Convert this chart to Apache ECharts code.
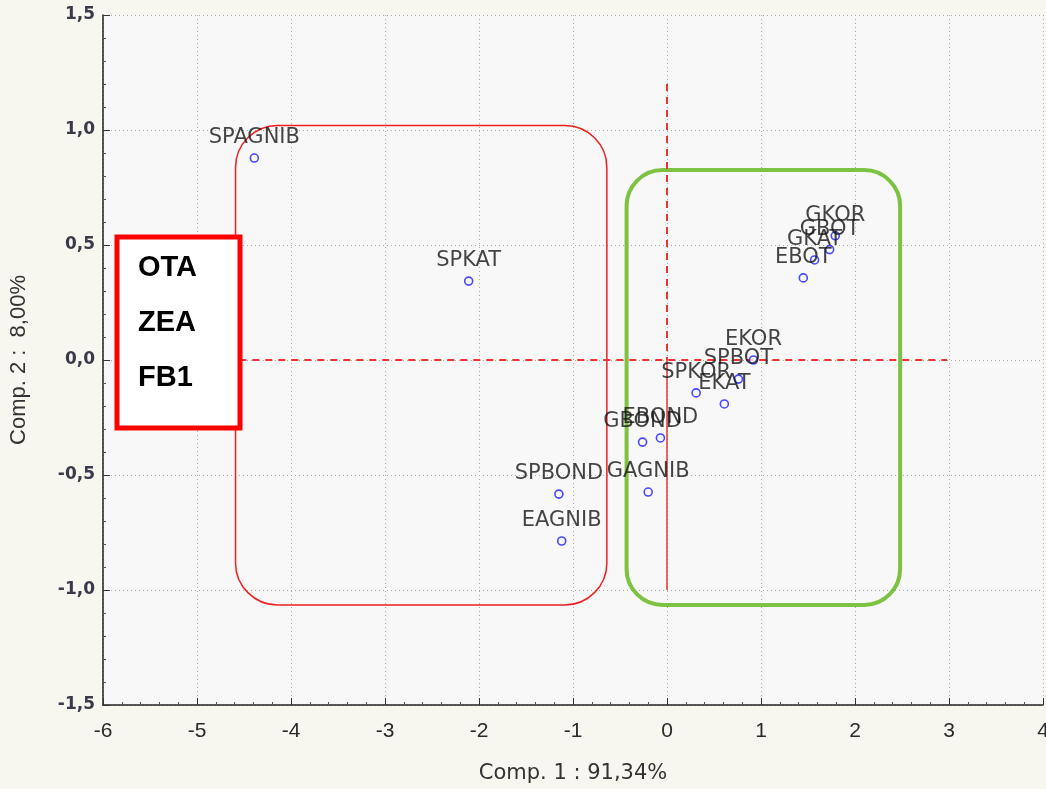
<!DOCTYPE html>
<html lang="en">
<head>
    <meta charset="UTF-8">
    <title>PCA</title>
    <style>
        html, body { margin: 0; padding: 0; background: #f7f6ef; }
        #box { width: 1046px; height: 789px; }
    </style>
    <script src="https://cdn.jsdelivr.net/npm/echarts@6/dist/echarts.min.js"></script>
</head>
<body>
    <div id="box"></div>
    <script>
        // samples and their scores on comp 1 / comp 2
        var names = ['SPAGNIB', 'SPKAT', 'SPBOND', 'EAGNIB', 'GAGNIB', 'GBOND', 'EBOND', 'SPKOR',
            'EKAT', 'SPBOT', 'EKOR', 'EBOT', 'GKAT', 'GBOT', 'GKOR'];
        var comp1 = [-4.39, -2.11, -1.15, -1.12, -0.20, -0.26, -0.07, 0.31, 0.61, 0.76, 0.92, 1.45, 1.57, 1.73, 1.79];
        var comp2 = [0.878, 0.343, -0.583, -0.787, -0.574, -0.357, -0.339, -0.143, -0.191, -0.083, 0.0, 0.357, 0.435, 0.48, 0.54];
        var legendItems = ['OTA', 'ZEA', 'FB1'];

        var chart = echarts.init(document.getElementById('box'));

        var points = names.map(function (n, i) { return { name: n, value: [comp1[i], comp2[i]] }; });

        var fmt = function (v) { return v.toFixed(1).replace('.', ','); };

        var option = {
            backgroundColor: '#f7f6ef',
            animation: false,
            grid: {
                left: 103, right: 3, top: 15, bottom: 84, outerBoundsMode: 'none',
                show: true, backgroundColor: '#f8f8f8', borderWidth: 0
            },
            xAxis: {
                type: 'value', min: -6, max: 4, interval: 1,
                name: 'Comp. 1 : 91,34%', nameLocation: 'middle', nameGap: 58,
                nameTextStyle: { fontFamily: 'DejaVu Sans', fontSize: 21, color: '#333' },
                axisLine: { onZero: false, lineStyle: { color: '#222', width: 1.5 } },
                axisTick: { inside: true, length: 7, lineStyle: { color: '#333' } },
                minorTick: { show: true, splitNumber: 5, length: 3, lineStyle: { color: '#555' } },
                axisLabel: { margin: 16, fontFamily: 'Liberation Sans Narrow, Liberation Sans', fontSize: 21, color: '#2a2a2a' },
                splitLine: { show: true, lineStyle: { type: [1, 3], color: '#aaa' } }
            },
            yAxis: {
                type: 'value', min: -1.5, max: 1.5, interval: 0.5,
                name: 'Comp. 2 :  8,00%', nameLocation: 'middle', nameGap: 73,
                nameTextStyle: { fontFamily: 'Liberation Sans', fontSize: 22, color: '#333' },
                axisLine: { onZero: false, lineStyle: { color: '#222', width: 1.5 } },
                axisTick: { inside: true, length: 7, lineStyle: { color: '#333' } },
                minorTick: { show: true, splitNumber: 5, length: 3, lineStyle: { color: '#555' } },
                axisLabel: { margin: 8, formatter: fmt, fontFamily: 'DejaVu Sans', fontWeight: 'bold', fontSize: 17, color: '#3a3a4a' },
                splitLine: { show: true, lineStyle: { type: [1, 3], color: '#aaa' } }
            },
            series: [{
                type: 'scatter',
                data: points,
                symbol: 'circle',
                symbolSize: 8,
                itemStyle: { color: '#f8f8f8', borderColor: '#1a1aff', borderWidth: 1.6 },
                label: {
                    show: true, position: 'top', distance: 5,
                    formatter: '{b}',
                    fontFamily: 'DejaVu Sans', fontSize: 21, color: '#151515'
                },
                markLine: {
                    silent: true, symbol: 'none', label: { show: false },
                    lineStyle: { color: '#ee3333', width: 2 },
                    data: [
                        [{ coord: [-4.55, 0], lineStyle: { type: [7, 6] } }, { coord: [2.98, 0] }],
                        [{ coord: [0, 1.2], lineStyle: { type: [7, 6] } }, { coord: [0, 0] }],
                        [{ coord: [0, 0], lineStyle: { type: 'solid', width: 1.5 } }, { coord: [0, -1.0] }]
                    ]
                },
                z: 5
            }]
        };

        chart.setOption(option);

        // annotation boxes, placed in data space
        function box(x0, y0, x1, y1, r, color, w) {
            var a = chart.convertToPixel({ gridIndex: 0 }, [x0, y0]);
            var b = chart.convertToPixel({ gridIndex: 0 }, [x1, y1]);
            return {
                type: 'rect', z: 3,
                shape: { x: a[0], y: a[1], width: b[0] - a[0], height: b[1] - a[1], r: r },
                style: { fill: null, stroke: color, lineWidth: w }
            };
        }

        var graphics = [
            box(-4.59, 1.02, -0.64, -1.065, 42, '#ee2020', 1.5),
            box(-0.43, 0.826, 2.48, -1.065, 36, '#7dc242', 4),
            {
                type: 'rect', z: 10,
                shape: { x: 117, y: 237, width: 123, height: 191 },
                style: { fill: '#ffffff', stroke: '#ff0000', lineWidth: 5 }
            }
        ];
        legendItems.forEach(function (t, i) {
            graphics.push({
                type: 'text', z: 11, x: 138, y: 268 + i * 55,
                style: { text: t, font: 'bold 29px "Liberation Sans"', fill: '#000', verticalAlign: 'middle' }
            });
        });
        chart.setOption({ graphic: graphics });
    </script>
</body>
</html>
